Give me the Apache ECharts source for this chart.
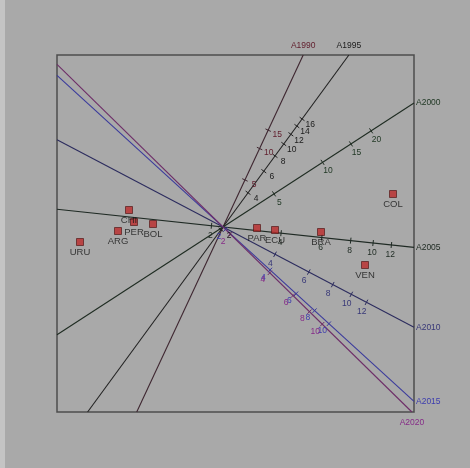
<!DOCTYPE html>
<html>
<head>
<meta charset="utf-8">
<style>
  html, body { margin: 0; padding: 0; background: #a9a9a9; }
  #chart { width: 470px; height: 468px; }
</style>
<script src="https://cdn.jsdelivr.net/npm/echarts@6/dist/echarts.min.js"></script>
</head>
<body>
<div id="chart"></div>
<script>
// row markers (countries), biplot coordinates
const countries = ['CHI', 'PER', 'BOL', 'ARG', 'URU', 'PAR', 'ECU', 'BRA', 'COL', 'VEN'];
const dim1 = [-0.94, -0.89, -0.70, -1.05, -1.43, 0.34, 0.52, 0.98, 1.70, 1.42];
const dim2 = [0.17, 0.05, 0.03, -0.04, -0.15, -0.01, -0.03, -0.05, 0.33, -0.38];

// column variables (years), drawn as calibrated axes through the origin
const years = ['A1990', 'A1995', 'A2000', 'A2005', 'A2010', 'A2015', 'A2020'];
const yearAngles = [65.0, 53.8, 33.0, -6.1, -27.7, -42.4, -44.4];
// log calibration: position along axis = scale * (ln(value) - centre)
const yearScales = [0.50, 0.66, 0.835, 1.01, 0.94, 0.87, 0.80];
const yearCentres = [0.571, 0.744, 0.881, 0.808, 0.761, 0.654, 0.567];

const ticks1990 = [5, 10, 15];
const ticks1995 = [2, 4, 6, 8, 10, 12, 14, 16];
const ticks2000 = [5, 10, 15, 20];
const ticks2005 = [2, 4, 6, 8, 10, 12];
const ticks2010 = [4, 6, 8, 10, 12];
const ticks2015 = [2, 4, 6, 8, 10];
const ticks2020 = [2, 4, 6, 8, 10];
const yearTicks = [ticks1990, ticks1995, ticks2000, ticks2005, ticks2010, ticks2015, ticks2020];

const lineColors = ['#3e2630', '#222222', '#1f2c22', '#1f2a24', '#2c2c5e', '#3a3a9c', '#6e2e68'];
const labelColors = ['#62202f', '#1c1c1c', '#1e3622', '#1e2a22', '#383878', '#3c3cae', '#862c88'];

const xMin = -1.66, xMax = 1.91, yMin = -1.85, yMax = 1.72;

const chart = echarts.init(document.getElementById('chart'));

function axisEnds(j) {
  const r = yearAngles[j] * Math.PI / 180, c = Math.cos(r), s = Math.sin(r);
  const tx = c > 0 ? xMax / c : xMin / c;
  const ty = s > 0 ? yMax / s : yMin / s;
  const tPos = Math.min(tx, ty);
  const tNeg = Math.max(c > 0 ? xMin / c : xMax / c, s > 0 ? yMin / s : yMax / s);
  return [[tNeg * c, tNeg * s], [tPos * c, tPos * s]];
}

const series = [];

years.forEach((name, j) => {
  const r = yearAngles[j] * Math.PI / 180, c = Math.cos(r), s = Math.sin(r);
  series.push({
    name: name,
    type: 'line',
    data: axisEnds(j),
    symbol: 'none',
    silent: true,
    lineStyle: { color: lineColors[j], width: 1.1 },
    z: 2
  });
  series.push({
    type: 'custom',
    silent: true,
    z: 3,
    data: yearTicks[j].map(v => {
      const d = yearScales[j] * (Math.log(v) - yearCentres[j]);
      return [d * c, d * s, v];
    }),
    renderItem: (params, api) => {
      const p = api.coord([api.value(0), api.value(1)]);
      const nx = s, ny = c; // screen-space normal to the axis
      return {
        type: 'group',
        children: [{
          type: 'line',
          shape: { x1: p[0] - 3 * nx, y1: p[1] - 3 * ny, x2: p[0] + 3 * nx, y2: p[1] + 3 * ny },
          style: { stroke: lineColors[j], lineWidth: 1 }
        }, {
          type: 'text',
          x: p[0] + 10 * nx,
          y: p[1] + 10 * ny,
          style: {
            text: String(api.value(2)),
            fill: labelColors[j],
            font: '8.5px "Liberation Sans", Arial, sans-serif',
            align: 'center',
            verticalAlign: 'middle'
          }
        }]
      };
    }
  });
});

// axis names at the outer end of each axis
series.push({
  type: 'custom',
  silent: true,
  z: 4,
  data: years.map((n, j) => axisEnds(j)[1].concat([j])),
  renderItem: (params, api) => {
    const x = api.value(0), y = api.value(1), j = api.value(2);
    const p = api.coord([x, y]);
    let tx = p[0], ty = p[1], align = 'center';
    if (y >= yMax - 1e-6) { ty -= 9; }
    else if (x >= xMax - 1e-6) { tx += 2; align = 'left'; }
    else { ty += 11; }
    return {
      type: 'text',
      x: tx, y: ty,
      style: {
        text: years[j],
        fill: labelColors[j],
        font: '8.5px "Liberation Sans", Arial, sans-serif',
        align: align,
        verticalAlign: 'middle'
      }
    };
  }
});

series.push({
  type: 'scatter',
  data: countries.map((n, i) => ({ name: n, value: [dim1[i], dim2[i]] })),
  symbol: 'rect',
  symbolSize: 7,
  itemStyle: { color: '#bc2a2a', borderColor: '#4a1010', borderWidth: 0.8 },
  label: {
    show: true,
    position: 'bottom',
    distance: 1,
    formatter: '{b}',
    color: '#141414',
    fontSize: 9.5,
    fontFamily: '"Liberation Sans", Arial, sans-serif'
  },
  z: 5
});

chart.setOption({
  animation: false,
  backgroundColor: '#a9a9a9',
  graphic: [{
    type: 'rect',
    left: 0, top: 0,
    shape: { width: 5, height: 468 },
    style: { fill: '#c4c4c4' }
  }],
  grid: {
    left: 57, top: 55, width: 357, height: 357,
    show: true,
    borderColor: '#4d4d4d',
    borderWidth: 1.5,
    backgroundColor: 'transparent'
  },
  xAxis: {
    type: 'value', min: xMin, max: xMax,
    axisLine: { show: false }, axisTick: { show: false },
    axisLabel: { show: false }, splitLine: { show: false }
  },
  yAxis: {
    type: 'value', min: yMin, max: yMax,
    axisLine: { show: false }, axisTick: { show: false },
    axisLabel: { show: false }, splitLine: { show: false }
  },
  series: series
});
</script>
</body>
</html>
